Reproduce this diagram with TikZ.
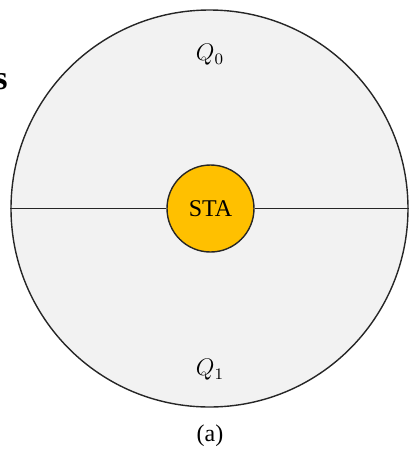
\documentclass[tikz,border=0pt]{standalone}
\usepackage{fontspec}
\setmainfont{Liberation Serif}
\begin{document}
\begin{tikzpicture}[x=0.5pt, y=-0.5pt, font=\fontsize{12}{14}\selectfont]

      \colorlet{cellFill}{gray!10}         % coverage area
      \definecolor{staFill}{RGB}{255,192,0} % station
      \colorlet{rim}{black!85}

  \useasboundingbox (0,0) rectangle (410,451);

  % the cell, split into two halves
  \node[circle, draw=rim, fill=cellFill, line width=0.7pt,
        minimum size=198.5pt, inner sep=0pt] (cell) at (209.5,208.5) {};

  % station in the middle
  \node[circle, draw=rim, fill=staFill, line width=0.7pt,
        minimum size=43.5pt, inner sep=0pt] (sta) at (210.5,208.5) {STA};
  \draw[rim, line width=0.7pt] (cell.west) -- (sta.west);
  \draw[rim, line width=0.7pt] (sta.east) -- (cell.east);

  % labels
  \node (q0) at (210,55) {$Q_0$};
  \node (q1) at (210,370) {$Q_1$};
  \node (cap) at (210,436) {(a)};
  \node[anchor=base east, inner sep=0pt, font=\fontsize{17}{19}\selectfont\bfseries] (edge) at (8,89) {s};

\end{tikzpicture}
\end{document}
